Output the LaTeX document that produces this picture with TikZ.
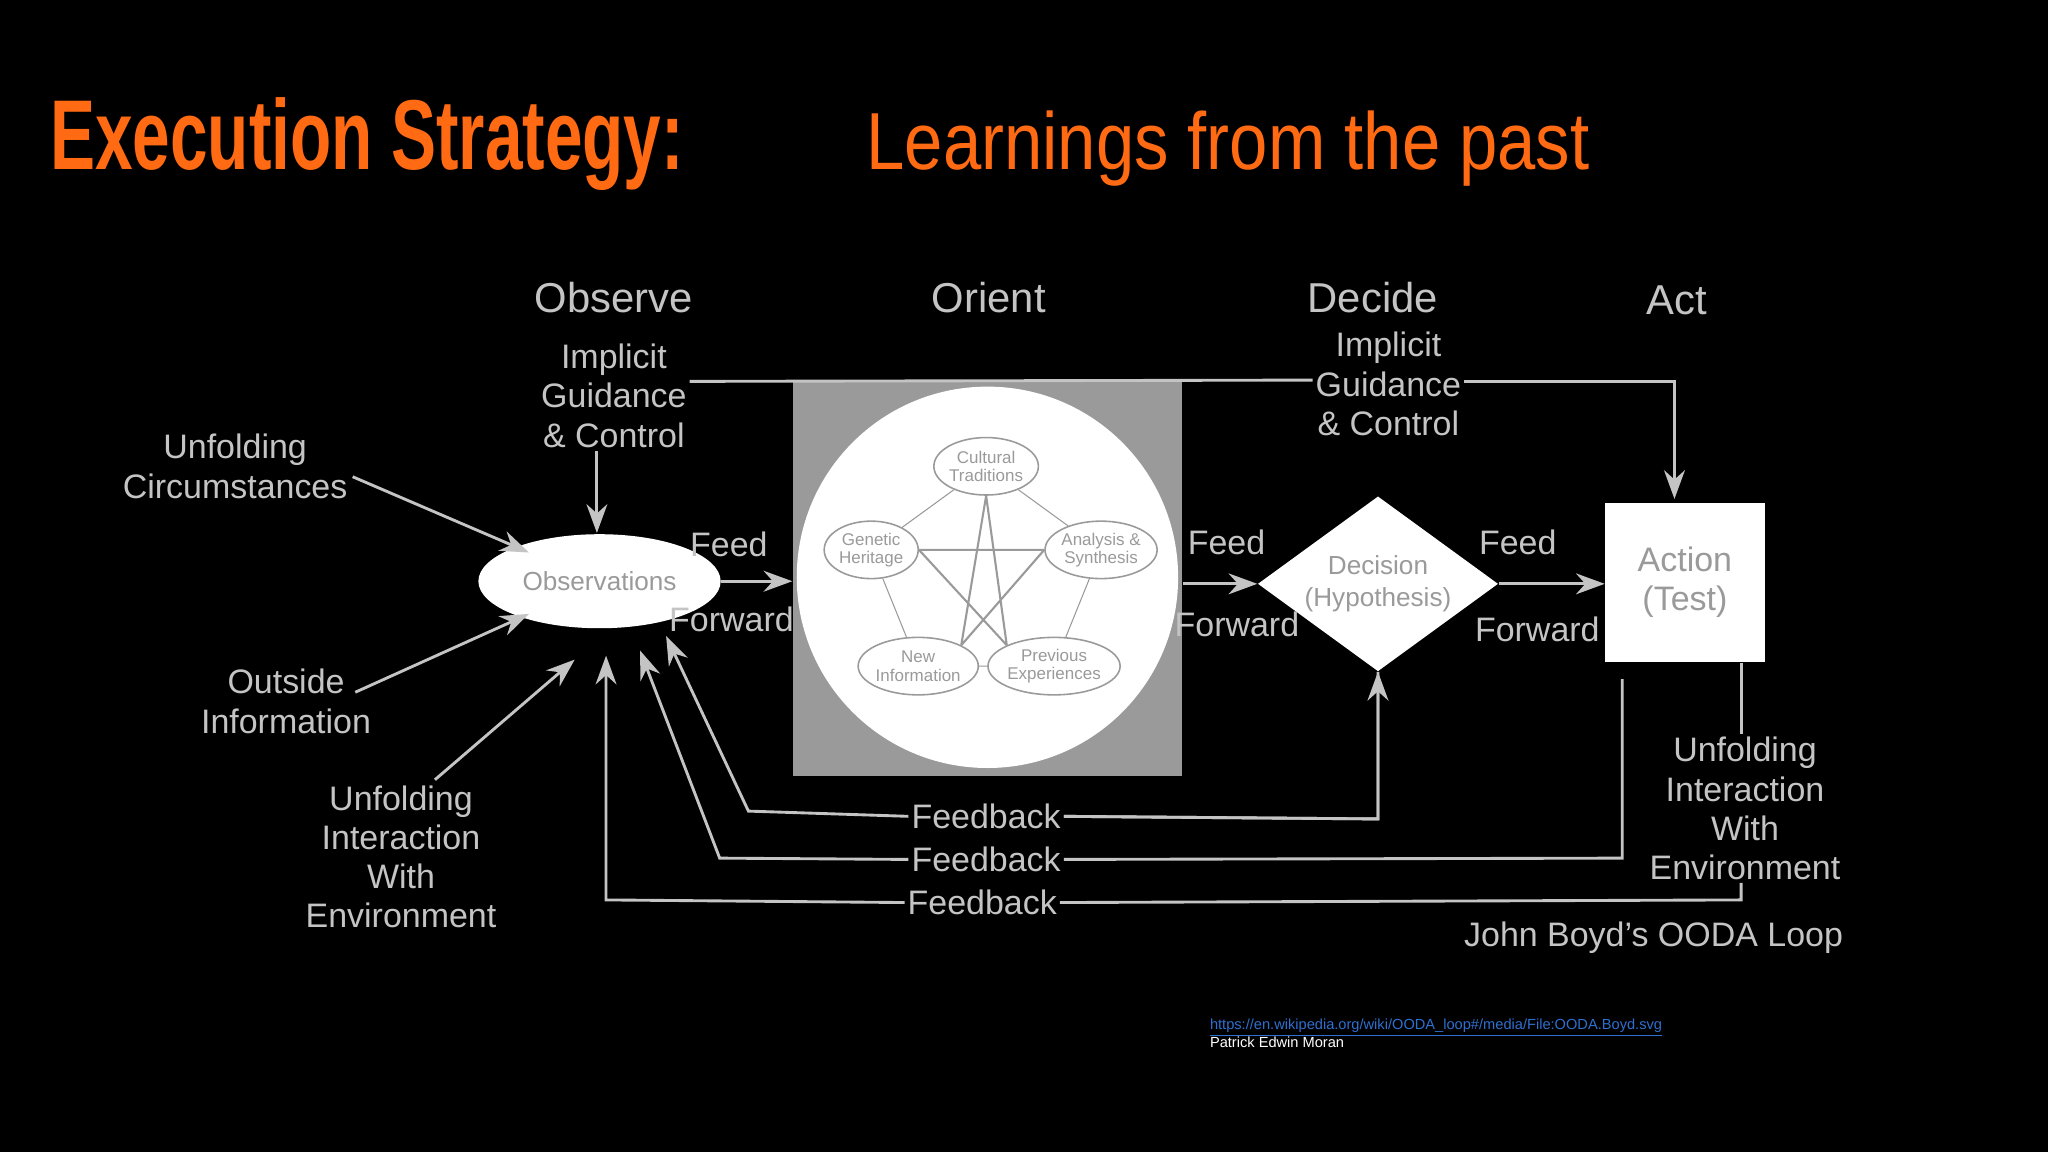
\documentclass[tikz,border=0pt]{standalone}
\usepackage{fontspec}
\setmainfont{Liberation Sans}
\usetikzlibrary{arrows.meta,shapes.geometric}
\definecolor{org}{HTML}{FF6A13}
\definecolor{gr}{HTML}{C4C4C4}
\definecolor{ig}{HTML}{9A9A9A}
\definecolor{lnk}{HTML}{2F6FD0}
\begin{document}
\begin{tikzpicture}[x=0.5pt,y=-0.5pt,
  lbl/.style={text=gr,font=\fontsize{13}{15}\selectfont,align=center,inner sep=1pt},
  hdr/.style={text=gr,font=\fontsize{16}{18}\selectfont},
  ln/.style={draw=gr,line width=1.1pt},
  ar/.style={ln,-{Stealth[length=11pt,width=8pt]}},
  inner/.style={ellipse,draw=ig,line width=0.6pt,fill=white,minimum width=36pt,minimum height=22pt,inner sep=0pt,text=ig,font=\fontsize{6.5}{7}\selectfont,align=center}]
\fill[black] (0,0) rectangle (1568,882);
\path[use as bounding box] (0,0) rectangle (1568,882);
\node[anchor=base west,inner sep=0,text=org] (t1) at (38,130) {\scalebox{0.68}[1]{\fontsize{38}{40}\selectfont\bfseries Execution Strategy:}};
\node[anchor=base west,inner sep=0,text=org] (t2) at (663,130) {\scalebox{0.85}[1]{\fontsize{31}{33}\selectfont Learnings from the past}};
% headers
\node[hdr] (h1) at (470,228) {Observe};
\node[hdr] (h2) at (757,228) {Orient};
\node[hdr] (h3) at (1051,228) {Decide};
\node[hdr] (h4) at (1284,230) {Act};
% left guidance
\node[lbl] (g1) at (470,303) {Implicit\\Guidance\\\& Control};
\node[lbl] (g2) at (1063,294) {Implicit\\Guidance\\\& Control};
% orient
\node[draw=none,fill=ig,minimum width=149pt,minimum height=151pt,inner sep=0] (rect) at (756,443) {};
\node[circle,fill=white,minimum size=146pt,inner sep=0] (circ) at (756,442) {};
\node[inner] (ct) at (755,357) {Cultural\\Traditions};
\node[inner] (gh) at (667,421) {Genetic\\Heritage};
\node[inner] (as) at (843,421) {Analysis \&\\Synthesis};
\node[inner] (ni) at (703,510) {New\\Information};
\node[inner] (pe) at (807,510) {Previous\\Experiences};
\begin{scope}[on background layer/.style={}]
\end{scope}
\draw[draw=ig,line width=0.4pt] (ct)--(gh) (gh)--(ni) (ni)--(pe) (pe)--(as) (as)--(ct);
\draw[draw=ig,line width=0.8pt] (ct.south)--(ni.north east) (ct.south)--(pe.north west) (gh.east)--(as.west) (gh.east)--(pe.north west) (as.west)--(ni.north east);
% observations
\node[ellipse,fill=white,minimum width=67pt,minimum height=36pt,text=ig,font=\fontsize{10}{12}\selectfont] (obs) at (459,445) {Observations};
% decision
\node[diamond,fill=white,minimum width=92pt,minimum height=67pt,inner sep=0,aspect=1.4,text=ig,font=\fontsize{10}{12}\selectfont,align=center] (dec) at (1055,447) {Decision\\(Hypothesis)};
\node[fill=white,minimum width=61pt,minimum height=61pt,inner sep=0,text=ig,font=\fontsize{13}{15}\selectfont,align=center] (act) at (1290,446) {Action\\(Test)};
% side labels
\node[lbl] (uc) at (180,357) {Unfolding\\Circumstances};
\node[lbl] (oi) at (219,537) {Outside\\Information};
\node[lbl] (ui) at (307,656) {Unfolding\\Interaction\\With\\Environment};
\node[lbl] (ur) at (1336,619) {Unfolding\\Interaction\\With\\Environment};
\node[lbl] (jb) at (1266,718) {John Boyd's OODA Loop};
% feed labels
\node[lbl] (f1) at (558,417) {Feed};
\node[lbl] (w1) at (560,474) {Forward};
\node[lbl] (f2) at (939,415) {Feed};
\node[lbl] (w2) at (947,478) {Forward};
\node[lbl] (f3) at (1162,415) {Feed};
\node[lbl] (w3) at (1177,482) {Forward};
\node[lbl] (fb1) at (755,625) {Feedback};
\node[lbl] (fb2) at (755,658) {Feedback};
\node[lbl] (fb3) at (752,691) {Feedback};
% coordinates
\coordinate (a1) at (405,423);
\coordinate (a2) at (405,470);
\coordinate (a3) at (440,505);
\coordinate (tg) at (457,408);
\coordinate (ta) at (1282,382);
% arrows
\draw[ar] (270,365) -- (a1);
\draw[ar] (272,530) -- (a2);
\draw[ar] (333,597) -- (a3);
\draw[ar] (g1.south -| tg) -- (tg);
\draw[ln] (g1.east |- 0,292) -- (g2.west |- 0,291);
\draw[ar] (g2.east |- 0,292) -- (1282,292) -- (ta);
\draw[ar] (obs.east) -- (rect.west |- obs.east);
\draw[ar] (rect.east |- 0,447) -- (dec.west);
\draw[ar] (dec.east) -- (act.west |- dec.east);
\draw[ar] (fb1.east) -- (1055,627) -- (dec.south);
\draw[ln] (dec.south) -- (1055,627) -- (fb1.east);
\draw[ar] (fb1.west) -- (573,621) -- (510,487);
\draw[ln] (fb2.east) -- (1242,657) -- (1242,520);
\draw[ar] (fb2.west) -- (551,657) -- (490,498);
\draw[ln] (fb3.east) -- (1333,689) -- (ur.south -| 1333,0);
\draw[ar] (fb3.west) -- (464,689) -- (464,502);
\draw[ln] (act.south -| 1333,0) -- (ur.north -| 1333,0);
% credit
\node[anchor=base west,inner sep=0,text=lnk,font=\fontsize{5.6}{6}\selectfont] (lk) at (926,788) {\underline{https://en.wikipedia.org/wiki/OODA\_loop\#/media/File:OODA.Boyd.svg}};
\node[anchor=base west,inner sep=0,text=white,font=\fontsize{5.6}{6}\selectfont] (pm) at (926,802) {Patrick Edwin Moran};
\end{tikzpicture}
\end{document}
